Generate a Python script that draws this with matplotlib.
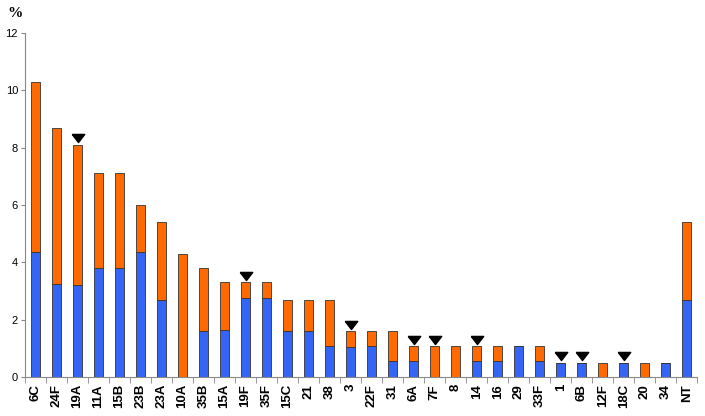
import matplotlib
matplotlib.use("Agg")
import matplotlib.pyplot as plt
import numpy as np

categories = ["6C","24F","19A","11A","15B","23B","23A","10A","35B","15A","19F","35F",
              "15C","21","38","3","22F","31","6A","7F","8","14","16","29","33F","1",
              "6B","12F","18C","20","34","NT"]
totals = [10.3, 8.7, 8.1, 7.1, 7.1, 6.0, 5.4, 4.3, 3.8, 3.3, 3.3, 3.3,
          2.7, 2.7, 2.7, 1.6, 1.6, 1.6, 1.08, 1.08, 1.08, 1.08, 1.08, 1.08, 1.08, 0.5,
          0.5, 0.5, 0.5, 0.5, 0.5, 5.4]
blue = [4.35, 3.25, 3.22, 3.8, 3.8, 4.35, 2.7, 0.0, 1.6, 1.63, 2.75, 2.75,
        1.6, 1.6, 1.08, 1.05, 1.08, 0.54, 0.54, 0.0, 0.0, 0.54, 0.54, 1.08, 0.54, 0.5,
        0.5, 0.0, 0.5, 0.0, 0.5, 2.7]
marked = ["19A", "19F", "3", "6A", "7F", "14", "1", "6B", "18C"]

orange_vals = [t - b for t, b in zip(totals, blue)]

plt.rcParams['font.family'] = ['Liberation Sans', 'DejaVu Sans']
fig = plt.figure(figsize=(7.05, 4.16), dpi=100)
ax = fig.add_axes([0.0355, 0.0938, 0.9535, 0.8269])

x = np.arange(len(categories))
w = 0.43
ax.bar(x, blue, width=w, color="#3465F5", edgecolor="#333333", linewidth=0.6, zorder=2)
ax.bar(x, orange_vals, bottom=blue, width=w, color="#FF6A00", edgecolor="#333333",
       linewidth=0.6, zorder=2)

# flattened down-pointing triangle marker
tri = [(-1.0, 0.65), (1.0, 0.65), (0.0, -0.65), (-1.0, 0.65)]
mx = [categories.index(c) for c in marked]
my = [totals[i] + 0.22 for i in mx]
ax.plot(mx, my, linestyle="none", marker=tri, color="black", markersize=9, zorder=3)

ax.set_xlim(-0.5, len(categories) - 0.5)
ax.set_ylim(0, 12)
ax.set_yticks(range(0, 13, 2))
ax.tick_params(axis='y', labelsize=8, length=3, color="#888888", pad=2)
ax.set_xticks(x)
ax.set_xticklabels(categories, rotation=90, fontweight="bold", fontsize=9.5)
ax.tick_params(axis='x', length=0, pad=5)
ax.set_xticks(np.arange(-0.5, len(categories), 1), minor=True)
ax.tick_params(axis='x', which='minor', length=4, color="#888888")

for s in ["top", "right"]:
    ax.spines[s].set_visible(False)
for s in ["left", "bottom"]:
    ax.spines[s].set_color("#888888")
    ax.spines[s].set_linewidth(0.8)

fig.text(0.010, 0.968, "%", fontweight="bold", fontsize=11, va="center", ha="left",
         family=["Liberation Serif", "DejaVu Serif"])

fig.savefig("out.png", dpi=100)
